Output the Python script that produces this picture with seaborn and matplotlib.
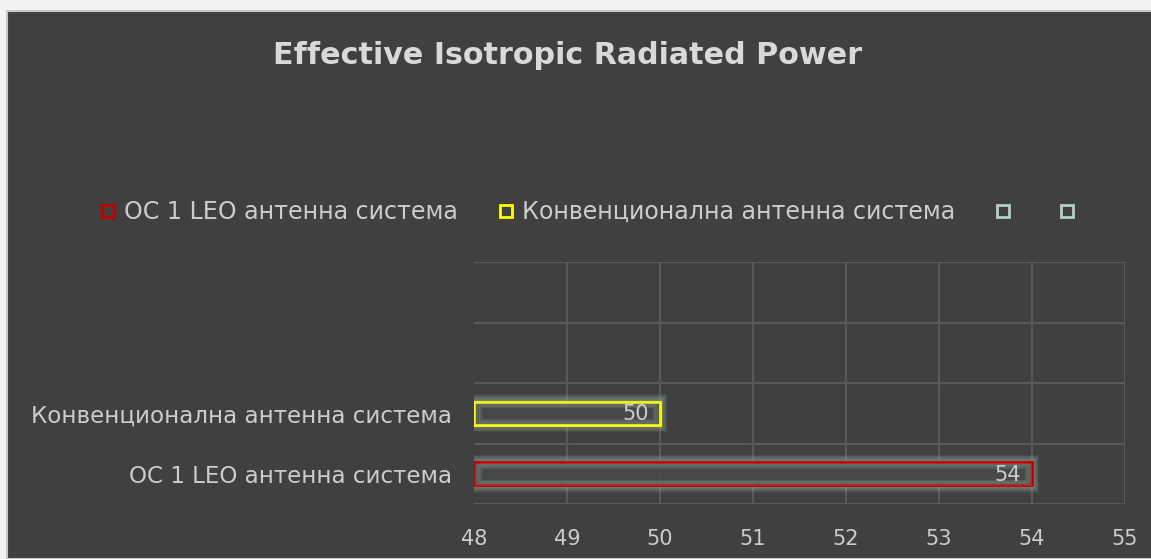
import numpy as np
import pandas as pd
import seaborn as sns
import matplotlib.pyplot as plt
from matplotlib.patches import Rectangle
from matplotlib.lines import Line2D

# data
categories = ['Конвенционална антенна система', 'OC 1 LEO антенна система']
values = [50, 54]
bar_colors = ['#ffff00', '#c00000']
slots = ['_blank1', '_blank2'] + categories   # Excel leaves two empty bands on top
legend_labels = ['OC 1 LEO антенна система', 'Конвенционална антенна система', '', '']
legend_colors = ['#c00000', '#ffff00', '#b4d2c4', '#b4d2c4']
xticks = [48, 49, 50, 51, 52, 53, 54, 55]
title = 'Effective Isotropic Radiated Power'

BG = '#404040'
TXT = '#cccccc'
GRID = '#595959'
GLOW = '#94a69a'

df = pd.DataFrame({'system': categories, 'eirp': values})

sns.set_theme(style='dark')
plt.rcParams['font.family'] = ['DejaVu Sans']

fig = plt.figure(figsize=(11.51, 5.59), dpi=100, facecolor='#f2f2f2')
# dark chart area, light frame at top/left like the Excel export
fig.patches.append(Rectangle((7 / 1151, 0), 1, 1 - 11 / 559, transform=fig.transFigure,
                             facecolor=BG, edgecolor='#c8c8c8', linewidth=1.5, zorder=-5))

ax = fig.add_axes([474 / 1151, 1 - 504 / 559, (1125 - 474) / 1151, (504 - 262) / 559])
ax.set_facecolor(BG)
ax.set_zorder(2)

sns.barplot(data=df, y='system', x='eirp', hue='system', order=slots,
            hue_order=categories, palette=bar_colors, fill=False, linewidth=2,
            width=0.38, legend=False, ax=ax, zorder=3)

x0 = xticks[0]
for p, v in zip([p for p in ax.patches if p.get_width() > 0], values):
    p.set_x(x0)
    p.set_width(v - x0)
    p.set_fill(True)
    p.set_facecolor((0.25, 0.25, 0.25, 0.85))
    p.set_zorder(3)
    y, h = p.get_y(), p.get_height()
    # soft glow around each bar
    for k in range(10, 0, -1):
        dx = 0.0075 * k
        dy = 0.012 * k
        ax.add_patch(Rectangle((x0, y - dy), v - x0 + dx, h + 2 * dy,
                               facecolor=GLOW, edgecolor='none', alpha=0.1, zorder=2,
                               clip_on=False))
    # inner glow
    for k in range(1, 4):
        ax.add_patch(Rectangle((x0 + 0.02 * k, y + 0.025 * k), v - x0 - 0.04 * k, h - 0.05 * k,
                               facecolor='none', edgecolor=GLOW, linewidth=2, alpha=0.22,
                               zorder=3.5))
    ax.text(v - 0.12, y + h / 2 + 0.02, str(v), ha='right', va='center',
            color=TXT, fontsize=15, zorder=5)

ax.set_xlim(48, 55)
ax.set_ylim(3.5, -0.5)
ax.set_xticks(xticks)
ax.set_xticklabels([str(t) for t in xticks])
ax.set_yticks(range(len(slots)))
ax.set_yticklabels(['', ''] + categories)
ax.set_yticks(np.arange(-0.5, len(slots), 1.0), minor=True)
ax.tick_params(axis='x', colors=TXT, labelsize=15, pad=18, length=0)
ax.tick_params(axis='y', colors=TXT, labelsize=16.6, pad=16, length=0, which='both')
for lab in ax.get_xticklabels() + ax.get_yticklabels():
    lab.set_color(TXT)
ax.set_xlabel('')
ax.set_ylabel('')

ax.grid(False)
ax.grid(True, axis='y', which='minor', color=GRID, linewidth=1.5, zorder=1)
for t in xticks[1:]:
    ax.axvline(t, color=GRID, linewidth=1.5, zorder=1)
for s in ax.spines.values():
    s.set_visible(False)

fig.text(568 / 1151, 1 - 55 / 559, title, ha='center', va='center',
         color='#d9d9d9', fontsize=21.7, fontweight='bold')

handles = [Line2D([], [], marker='s', linestyle='none', markersize=9,
                  markerfacecolor='none', markeredgecolor=c, markeredgewidth=2)
           for c in legend_colors]
fig.legend(handles, legend_labels, loc='center', bbox_to_anchor=(591 / 1151, 1 - 212 / 559),
           ncol=4, frameon=False, fontsize=17.1, labelcolor=TXT, handletextpad=0.3,
           columnspacing=1.6, handlelength=0.8)

fig.savefig('out.png', dpi=100, facecolor=fig.get_facecolor())
